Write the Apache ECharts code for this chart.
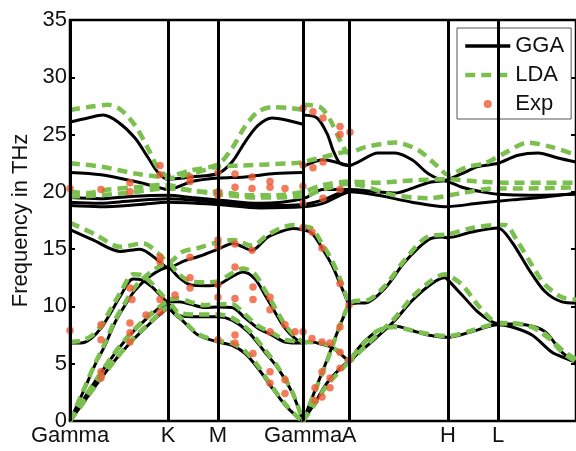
<!DOCTYPE html>
<html><head><meta charset="utf-8">
<script src="https://cdn.jsdelivr.net/npm/echarts@6/dist/echarts.min.js"></script>
<style>html,body{margin:0;padding:0;background:#fff}#c{width:576px;height:451px}</style>
</head><body><div id="c"></div>
<script>
// k-path positions of the high-symmetry points and their labels
const symPos = [0, 98, 148, 233, 279, 378, 428];
const symLabels = ['Gamma', 'K', 'M', 'Gamma', 'A', 'H', 'L'];
const pathEnd = 506;
const yMin = 0, yMax = 35, yStep = 5;

// GGA branches [k, THz]
const ggaLow1 = [[0,0],[15,1.8],[30,3.6],[45,5.3],[60,6.8],[75,8.1],[90,9.3],[98,9.8],[105,9.3],[112,8.8],[128,7.5],[148,6.9],[162,6.6],[175,5.9],[188,4.6],[202,2.9],[215,1.4],[228,0.3],[233,0]];
const ggaLow2 = [[0,0],[15,2.1],[30,4.1],[45,5.9],[60,7.5],[75,8.8],[90,9.9],[98,10.2],[108,9.25],[122,9.1],[148,9.1],[162,8.8],[178,7.8],[195,6.0],[208,4.6],[222,2.5],[233,0]];
const ggaLow3 = [[0,0],[15,2.9],[25,4.9],[35,6.6],[45,8.6],[55,10.1],[65,11.4],[81,12.7],[98,13.4],[108,12.6],[120,11.9],[135,11.8],[148,11.9],[162,12.6],[173,13.0],[185,12.4],[195,11.0],[205,9.5],[215,8.1],[225,7.2],[233,6.8]];
const ggaLow4 = [[0,6.8],[11,6.8],[21,7.2],[31,8.1],[41,9.5],[51,11.0],[63,12.4],[72,12.3],[82,11.7],[90,11.0],[98,10.4],[108,10.4],[120,10.2],[135,9.9],[148,9.95],[162,9.9],[175,9.0],[188,8.1],[202,7.5],[215,6.9],[233,6.8]];
const ggaLow5 = [[0,16.7],[23,15.8],[50,14.8],[70,15.0],[87,14.1],[98,13.4],[115,14.0],[130,14.4],[148,15.0],[163,15.5],[182,14.9],[197,16.0],[210,16.5],[223,16.8],[233,16.7]];
const ggaR1 = [[233,0],[245,1.6],[256,3.2],[268,4.4],[279,5.3],[288,6.3],[295,7.0],[308,7.9],[325,8.3],[342,7.9],[358,7.5],[378,7.3],[402,7.8],[428,8.4],[442,8.2],[462,7.5],[482,6.0],[495,5.5],[506,5.15]];
const ggaR2 = [[233,6.8],[242,6.9],[252,6.7],[260,6.5],[270,5.9],[279,5.3],[288,5.9],[295,6.4],[308,7.4],[325,8.8],[342,10.5],[362,12.0],[375,12.5],[378,12.3],[392,11.0],[408,9.5],[422,8.65],[428,8.5],[455,8.4],[475,7.8],[492,6.0],[506,5.15]];
const ggaR3 = [[233,0],[256,5.1],[279,10.1],[288,10.3],[295,10.3],[315,11.6],[335,13.9],[358,15.8],[372,16.05],[378,16.0],[402,16.5],[428,16.85],[442,15.6],[458,13.35],[475,11.3],[492,10.4],[506,10.3]];
const ggaR4 = [[233,16.7],[242,16.4],[252,15.1],[262,13.6],[270,12.0],[279,10.1]];
const ggaU1a = [[0,26.1],[18,26.45],[33,26.7],[48,26.1],[65,24.7],[78,23.0],[88,21.7],[98,21.1],[122,21.3],[148,21.6],[162,22.6],[175,24.35],[188,25.8],[202,26.45],[215,26.3],[233,25.9]];
const ggaU1b = [[233,26.7],[247,26.45],[257,25.1],[263,23.65],[270,22.5],[279,22.3],[288,22.6],[308,23.4],[325,23.4],[342,22.8],[358,21.6],[372,21.0],[378,20.9],[392,20.4],[412,20.0],[428,19.8],[460,19.7],[506,19.8]];
const ggaU2a = [[0,21.7],[31,21.5],[65,20.9],[88,20.4],[98,20.2],[122,20.9],[148,21.2],[175,21.3],[205,21.6],[233,21.7]];
const ggaU2b = [[233,22.2],[253,22.8],[270,22.5],[279,22.3]];
const ggaU3 = [[0,19.5],[30,19.4],[60,19.6],[98,19.7],[122,19.5],[148,19.3],[190,19.0],[233,19.4],[253,20.2],[270,20.2],[279,20.2],[308,20.0],[325,19.9],[342,20.3],[358,20.8],[375,21.0],[392,21.6],[408,22.2],[428,22.5],[448,23.2],[468,23.4],[488,22.95],[506,22.6]];
const ggaU4 = [[0,19.1],[30,19.0],[60,19.2],[98,19.4],[148,19.1],[190,18.8],[233,18.9],[253,19.3],[270,19.9],[279,20.0],[308,19.7],[342,19.1],[375,18.7],[408,19.0],[442,19.3],[475,19.55],[506,19.9]];
const ggaU5 = [[0,18.8],[30,18.7],[70,18.9],[98,19.1],[148,18.9],[190,18.6],[233,18.7],[253,19.0],[270,19.7],[279,20.0]];

// LDA branches [k, THz]
const ldaLow1 = [[0,0],[15,1.8],[30,3.6],[45,5.3],[60,6.9],[75,8.2],[90,9.4],[98,9.9],[105,9.4],[112,8.9],[128,7.6],[148,7.0],[162,6.8],[175,6.1],[188,4.8],[202,3.0],[215,1.5],[228,0.3],[233,0]];
const ldaLow2 = [[0,0],[15,2.1],[30,4.1],[45,6.0],[60,7.6],[75,8.9],[90,10.0],[98,10.4],[108,9.5],[122,9.3],[148,9.3],[162,9.0],[178,8.0],[195,6.2],[208,4.7],[222,2.6],[233,0]];
const ldaLow3 = [[0,0],[15,3.0],[25,5.0],[35,6.8],[45,8.8],[55,10.3],[65,11.7],[81,13.0],[98,13.8],[108,12.9],[120,12.2],[135,12.1],[148,12.2],[162,12.9],[173,13.3],[185,12.8],[195,11.4],[205,9.9],[215,8.4],[225,7.4],[233,6.9]];
const ldaLow4 = [[0,6.9],[11,7.0],[21,7.4],[31,8.3],[41,9.8],[51,11.3],[63,12.8],[72,12.7],[82,12.0],[90,11.2],[98,10.6],[108,10.7],[120,10.4],[135,10.1],[148,10.2],[162,10.2],[175,9.3],[188,8.3],[202,7.7],[215,7.1],[233,6.9]];
const ldaLow5 = [[0,17.3],[25,16.3],[50,15.2],[73,15.5],[90,14.5],[98,13.8],[112,14.75],[128,15.1],[148,15.6],[163,15.8],[182,15.3],[197,16.2],[210,16.8],[223,17.1],[233,17.0]];
const ldaR1 = [[233,0],[245,1.5],[256,3.0],[268,4.2],[279,5.2],[288,6.2],[295,6.9],[308,7.9],[325,8.2],[342,7.9],[358,7.6],[378,7.4],[402,7.9],[428,8.5],[442,8.5],[462,8.2],[482,7.0],[495,6.0],[506,5.4]];
const ldaR2 = [[233,6.9],[252,6.8],[270,6.0],[279,5.2],[288,5.9],[295,6.5],[308,7.6],[325,9.0],[342,10.8],[362,12.3],[375,12.8],[378,12.75],[392,11.9],[408,10.1],[422,8.8],[428,8.6],[455,8.4],[475,7.6],[492,6.0],[506,5.2]];
const ldaR3 = [[233,0],[256,5.0],[279,10.2],[288,10.5],[295,10.5],[315,11.8],[335,14.1],[358,16.1],[378,16.3],[402,16.85],[428,17.1],[435,17.1],[448,15.6],[462,13.6],[475,11.9],[492,10.8],[506,10.6]];
const ldaR4 = [[233,17.0],[242,16.8],[252,15.5],[262,14.0],[270,12.4],[279,10.2]];
const ldaU1a = [[0,27.15],[18,27.4],[38,27.6],[51,27.15],[65,25.8],[78,23.8],[88,22.1],[98,21.4],[122,21.9],[148,22.4],[162,23.8],[175,25.7],[188,27.0],[202,27.4],[222,27.3],[233,27.15]];
const ldaU1b = [[233,27.6],[250,27.4],[260,26.3],[270,24.5],[279,23.4],[295,23.9],[325,24.3],[348,23.65],[368,22.2],[378,21.5],[398,22.2],[415,22.5],[435,23.4],[458,24.3],[482,23.9],[506,23.2]];
const ldaU2 = [[0,22.5],[31,22.2],[65,21.6],[91,21.3],[98,21.2],[122,21.6],[148,22.2],[173,22.3],[223,22.5],[233,22.6],[270,23.4],[279,23.5]];
const ldaU3 = [[0,20.0],[18,19.9],[38,20.2],[65,20.4],[91,20.6],[98,20.6],[115,20.2],[135,20.0],[148,20.0],[178,19.7],[205,19.7],[233,20.0],[253,20.6],[279,20.9],[308,20.8],[342,21.0],[378,21.1],[408,20.9],[442,20.8],[475,20.8],[506,20.8]];
const ldaU4 = [[0,19.6],[31,19.7],[65,20.0],[98,20.3],[148,19.8],[190,19.5],[233,19.6],[253,20.2],[279,20.7],[325,19.7],[358,19.45],[392,19.9],[425,20.3],[458,20.3],[506,20.4]];

// Experimental points [k, THz]
const expPoints = [
  [0,20.3],[0,7.9],[31,20.2],[31,4.3],[31,3.75],[31,8.4],[31,7.1],
  [60,20.8],[60,20.0],[60,11.6],[62,10.6],[60,8.55],[60,7.7],[60,6.9],[76,9.25],
  [90,10.6],[90,9.5],[90,14.3],[90,13.9],[90,22.3],[90,21.5],
  [120,14.3],[148,15.8],[148,15.2],[165,15.45],[182,14.9],[165,13.45],[120,12.5],[148,11.9],[120,11.6],
  [105,11.0],[148,10.8],[165,10.7],[183,11.7],[183,10.6],[200,10.8],[200,9.7],[148,7.1],[165,7.5],
  [165,6.8],[183,5.9],[200,7.8],[215,8.4],[225,7.8],[233,7.8],[200,4.3],[215,3.6],[200,3.3],[215,2.4],
  [148,21.7],[165,21.55],[182,21.3],[120,21.3],[120,20.9],[148,20.0],[148,19.7],[165,20.4],[182,20.3],
  [200,20.9],[200,20.4],[215,20.3],[233,27.3],[233,22.35],[233,20.5],[233,19.0],
  [243,27.0],[253,26.45],[270,25.7],[270,25.0],[280,25.2],[243,22.1],[253,22.6],[253,19.45],[270,20.2],
  [233,16.85],[242,16.5],[252,15.1],[270,12.0],[279,10.1],[242,7.2],[252,6.9],[260,6.8],[270,6.0],
  [270,8.2],[279,5.3],[252,4.3],[260,3.75],[270,4.6],[245,2.9],[252,2.1],[245,1.8],[260,2.9]
];

const ggaBranches = [ggaLow1, ggaLow2, ggaLow3, ggaLow4, ggaLow5, ggaR1, ggaR2, ggaR3, ggaR4,
  ggaU1a, ggaU1b, ggaU2a, ggaU2b, ggaU3, ggaU4, ggaU5];
const ldaBranches = [ldaLow1, ldaLow2, ldaLow3, ldaLow4, ldaLow5, ldaR1, ldaR2, ldaR3, ldaR4,
  ldaU1a, ldaU1b, ldaU2, ldaU3, ldaU4];

const FONT = 'Liberation Sans, Arial, Helvetica, sans-serif';
const BLACK = '#000000';
const GREEN = '#7bc04e';
const RED = '#ef5a34';

const series = [];
series.push({
  type: 'line', name: '_sym', data: [], silent: true, z: 1,
  markLine: {
    silent: true, symbol: ['none', 'none'], label: {show: false},
    lineStyle: {color: BLACK, width: 3, type: 'solid'},
    emphasis: {disabled: true},
    data: symPos.map(v => ({xAxis: v}))
  }
});
ggaBranches.forEach(b => series.push({
  type: 'line', name: 'GGA', data: b, showSymbol: false, symbol: 'none', smooth: 0.3,
  lineStyle: {color: BLACK, width: 3}, itemStyle: {color: BLACK}, z: 2, silent: true
}));
ldaBranches.forEach(b => series.push({
  type: 'line', name: 'LDA', data: b, showSymbol: false, symbol: 'none', smooth: 0.3,
  lineStyle: {color: GREEN, width: 4.5, type: [10, 6]}, itemStyle: {color: GREEN}, z: 3, silent: true
}));
series.push({
  type: 'scatter', name: 'Exp', data: expPoints, symbol: 'circle', symbolSize: 7.5,
  itemStyle: {color: RED}, z: 4, silent: true
});

const chart = echarts.init(document.getElementById('c'), null, {renderer: 'canvas'});
chart.setOption({
  animation: false,
  backgroundColor: '#ffffff',
  grid: {left: 70, top: 20, width: 506, height: 401, show: true, borderColor: BLACK, borderWidth: 2.5, backgroundColor: 'transparent'},
  legend: {
    data: [
      {name: 'GGA', itemStyle: {opacity: 0}, lineStyle: {width: 3.5}},
      {name: 'LDA', itemStyle: {opacity: 0}, lineStyle: {width: 4.5}},
      {name: 'Exp', icon: 'circle', itemStyle: {color: RED}}
    ],
    orient: 'vertical', left: 457, top: 28,
    itemWidth: 45, itemHeight: 8, itemGap: 7, padding: [7, 7, 4, 6],
    backgroundColor: '#ffffff', borderColor: '#555555', borderWidth: 1,
    textStyle: {fontFamily: FONT, fontSize: 22, color: '#111111'},
    selectedMode: false
  },
  xAxis: {
    type: 'value', min: 0, max: pathEnd,
    axisLine: {show: false}, splitLine: {show: false},
    axisTick: {show: false},
    axisLabel: {
      customValues: symPos, margin: 4, fontFamily: FONT, fontSize: 22, color: '#111111',
      formatter: v => { const i = symPos.indexOf(v); return i >= 0 ? symLabels[i] : ''; }
    }
  },
  yAxis: [{
    type: 'value', min: yMin, max: yMax, interval: yStep,
    name: 'Frequency in THz', nameLocation: 'middle', nameGap: 34,
    nameTextStyle: {fontFamily: FONT, fontSize: 22, color: '#111111'},
    axisLine: {show: false}, splitLine: {show: false},
    axisTick: {show: true, inside: true, length: 5, lineStyle: {color: BLACK, width: 2}},
    axisLabel: {margin: 3, fontFamily: FONT, fontSize: 22, color: '#111111'}
  }, {
    type: 'value', min: yMin, max: yMax, interval: yStep, position: 'right',
    axisLine: {show: false}, splitLine: {show: false},
    axisTick: {show: true, inside: true, length: 5, lineStyle: {color: BLACK, width: 2}},
    axisLabel: {show: false}
  }],
  series: series
});
</script>
</body></html>
